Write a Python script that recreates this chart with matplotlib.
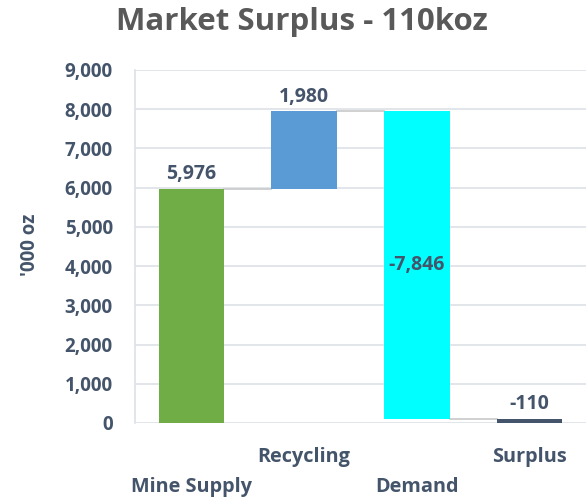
import matplotlib
matplotlib.use("Agg")
import matplotlib.pyplot as plt
import numpy as np

categories = ["Mine Supply", "Recycling", "Demand", "Surplus"]
values = [5976, 1980, -7846, -110]
labels = ["5,976", "1,980", "-7,846", "-110"]
colors = ["#70AD47", "#5B9BD5", "#00FFFF", "#44546A"]
yticks = [0, 1000, 2000, 3000, 4000, 5000, 6000, 7000, 8000, 9000]
title = "Market Surplus - 110koz"
ylabel = "'000 oz"

txt = "#44546A"
font = "Open Sans"

fig = plt.figure(figsize=(5.86, 4.99), dpi=100)
ax = fig.add_axes([135/586, 1-423/499, 1-135/586, (423-70)/499])

starts = []
ends = []
cur = 0
for i, v in enumerate(values[:3]):
    starts.append(cur)
    cur += v
    ends.append(cur)
starts.append(0)
ends.append(cur)

x = np.arange(len(categories))
w = 0.58
for i in range(len(categories)):
    lo, hi = min(starts[i], ends[i]), max(starts[i], ends[i])
    ax.bar(x[i], hi - lo, bottom=lo, width=w, color=colors[i], zorder=3)

for i in range(3):
    lvl = ends[i]
    ax.plot([x[i] + w/2, x[i+1] - w/2], [lvl, lvl], color="#C8C8C8", lw=1.2, zorder=2)

for i in range(len(categories)):
    top = max(starts[i], ends[i])
    if i == 2:
        ax.text(x[i], (starts[i] + ends[i]) / 2, labels[i], ha="center", va="center",
                fontsize=14, fontweight="bold", color=txt, family=font, zorder=4)
    else:
        ax.text(x[i], top + 110, labels[i], ha="center", va="bottom",
                fontsize=14, fontweight="bold", color=txt, family=font, zorder=4)

ax.set_xlim(-0.5, 3.5)
ax.set_ylim(0, 9000)
ax.set_yticks(yticks)
ax.set_yticklabels([f"{t:,}" for t in yticks], fontsize=13.5, fontweight="bold",
                   color=txt, family=font)
ax.tick_params(axis="y", length=0, pad=16)
ax.set_xticks([])
ax.grid(axis="y", color="#DDE2E8", lw=1.2, zorder=0)
ax.set_axisbelow(True)
for s in ["top", "right", "bottom"]:
    ax.spines[s].set_visible(False)
ax.spines["left"].set_color("#DDE2E8")
ax.spines["left"].set_linewidth(1.2)

for i, c in enumerate(categories):
    ypix = 487 if i % 2 == 0 else 457
    fig.text((135 + (i + 0.5) * (451/4)) / 586, 1 - ypix/499, c, ha="center", va="center",
             fontsize=14.3, fontweight="bold", color=txt, family=font)

fig.text(30/586, 1 - 245/499, ylabel, rotation=90, ha="center", va="center",
         fontsize=13.5, fontweight="bold", color=txt, family=font)

fig.text(302/586, 1 - 22/499, title, ha="center", va="center",
         fontsize=22.5, fontweight="bold", color="#595959", family=font)

fig.savefig("out.png", dpi=100)
